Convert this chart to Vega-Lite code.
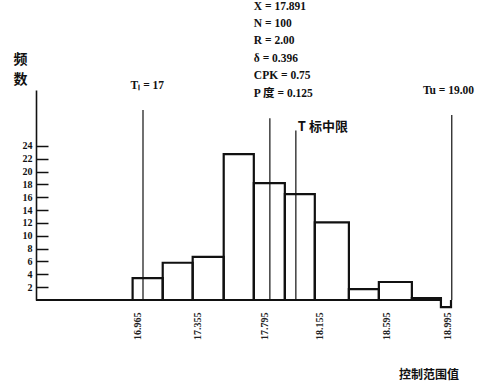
{
  "$schema": "https://vega.github.io/schema/vega-lite/v6.json",
  "autosize": "none",
  "width": 428,
  "height": 210,
  "padding": {"left": 36, "top": 90, "right": 22, "bottom": 87},
  "background": "white",
  "config": {"view": {"stroke": null}},
  "datasets": {
    "bars": [
      {"lo": 16.932, "hi": 17.129, "n": 3.4},
      {"lo": 17.129, "hi": 17.325, "n": 5.8},
      {"lo": 17.325, "hi": 17.528, "n": 6.7},
      {"lo": 17.528, "hi": 17.725, "n": 22.7},
      {"lo": 17.725, "hi": 17.928, "n": 18.2},
      {"lo": 17.928, "hi": 18.124, "n": 16.5},
      {"lo": 18.124, "hi": 18.347, "n": 12.1},
      {"lo": 18.347, "hi": 18.543, "n": 1.7},
      {"lo": 18.543, "hi": 18.759, "n": 2.8},
      {"lo": 18.759, "hi": 18.949, "n": 0.3}
    ],
    "refs": [
      {"x": 17.0, "top": 29.6},
      {"x": 17.83, "top": 28.3},
      {"x": 18.0, "top": 26.4},
      {"x": 19.02, "top": 28.8}
    ],
    "base": [{"x1": 16.30, "x2": 16.932, "y": 0}],
    "tail": [
      {"x": 18.949, "y": 0.3, "o": 1},
      {"x": 18.949, "y": -1.1, "o": 2},
      {"x": 19.015, "y": -1.1, "o": 3},
      {"x": 19.015, "y": 0, "o": 4}
    ],
    "stats": [
      {"x": 17.725, "y": 45.6, "t": "X = 17.891"},
      {"x": 17.725, "y": 42.9, "t": "N = 100"},
      {"x": 17.725, "y": 40.3, "t": "R = 2.00"},
      {"x": 17.725, "y": 37.6, "t": "δ = 0.396"},
      {"x": 17.725, "y": 34.9, "t": "CPK = 0.75"},
      {"x": 17.725, "y": 32.1, "t": "P 度 = 0.125"},
      {"x": 16.919, "y": 33.3, "t": "Tₗ = 17"},
      {"x": 18.831, "y": 32.5, "t": "Tu = 19.00"}
    ],
    "cjk": [
      {"x": 18.013, "y": 27.0, "t": "T 标中限", "s": 13},
      {"x": 16.153, "y": 37.3, "t": "频", "s": 14},
      {"x": 16.153, "y": 34.2, "t": "数", "s": 14}
    ],
    "xtitle": [{"x": 18.871, "y": -11.7, "t": "控制范围值"}]
  },
  "layer": [
    {
      "data": {"name": "bars"},
      "mark": {"type": "rect", "fill": null, "fillOpacity": 0, "stroke": "#111", "strokeWidth": 2.2},
      "encoding": {
        "x": {"field": "lo", "type": "quantitative",
              "scale": {"domain": [16.30, 19.10], "nice": false, "zero": false},
              "axis": {"values": [16.965, 17.355, 17.795, 18.155, 18.595, 18.995], "format": ".3f", "tickCount": 20,
                       "labelAngle": -90, "domain": false, "ticks": false, "grid": false,
                       "labelPadding": 12, "labelFont": "Liberation Serif", "labelFontSize": 10,
                       "labelFontWeight": "bold", "labelColor": "#222", "title": null, "labelOverlap": false}},
        "x2": {"field": "hi"},
        "y": {"field": "n", "type": "quantitative",
              "scale": {"domain": [0, 32.7], "nice": false},
              "axis": {"values": [2, 4, 6, 8, 10, 12, 14, 16, 18, 20, 22, 24], "tickCount": 30, "grid": false,
                       "domainColor": "#111", "domainWidth": 1.6, "tickColor": "#111", "tickWidth": 1.5,
                       "tickSize": -12, "labelPadding": 16, "labelFont": "Liberation Serif", "labelFontSize": 10,
                       "labelFontWeight": "bold", "labelColor": "#111", "title": null, "labelOverlap": false}},
        "y2": {"datum": 0}
      }
    },
    {
      "data": {"name": "refs"},
      "mark": {"type": "rule", "stroke": "#111", "strokeWidth": 1.2},
      "encoding": {
        "x": {"field": "x", "type": "quantitative"},
        "y": {"field": "top", "type": "quantitative"},
        "y2": {"datum": 0}
      }
    },
    {
      "data": {"name": "base"},
      "mark": {"type": "rule", "stroke": "#111", "strokeWidth": 2},
      "encoding": {
        "x": {"field": "x1", "type": "quantitative"},
        "x2": {"field": "x2"},
        "y": {"field": "y", "type": "quantitative"}
      }
    },
    {
      "data": {"name": "tail"},
      "mark": {"type": "line", "stroke": "#111", "strokeWidth": 2.2},
      "encoding": {
        "x": {"field": "x", "type": "quantitative"},
        "y": {"field": "y", "type": "quantitative"},
        "order": {"field": "o"}
      }
    },
    {
      "data": {"name": "stats"},
      "mark": {"type": "text", "align": "left", "baseline": "middle", "font": "Liberation Serif, Noto Sans CJK SC",
               "fontSize": 11.5, "fontWeight": "bold", "color": "#111"},
      "encoding": {
        "x": {"field": "x", "type": "quantitative"},
        "y": {"field": "y", "type": "quantitative"},
        "text": {"field": "t"}
      }
    },
    {
      "data": {"name": "cjk"},
      "mark": {"type": "text", "align": "left", "baseline": "middle", "font": "Noto Sans CJK SC",
               "fontWeight": "bold", "color": "#111"},
      "encoding": {
        "x": {"field": "x", "type": "quantitative"},
        "y": {"field": "y", "type": "quantitative"},
        "size": {"field": "s", "type": "quantitative", "scale": null},
        "text": {"field": "t"}
      }
    },
    {
      "data": {"name": "xtitle"},
      "mark": {"type": "text", "align": "center", "baseline": "middle", "font": "Noto Sans CJK SC",
               "fontSize": 12, "fontWeight": "bold", "color": "#111"},
      "encoding": {
        "x": {"field": "x", "type": "quantitative"},
        "y": {"field": "y", "type": "quantitative"},
        "text": {"field": "t"}
      }
    }
  ]
}
